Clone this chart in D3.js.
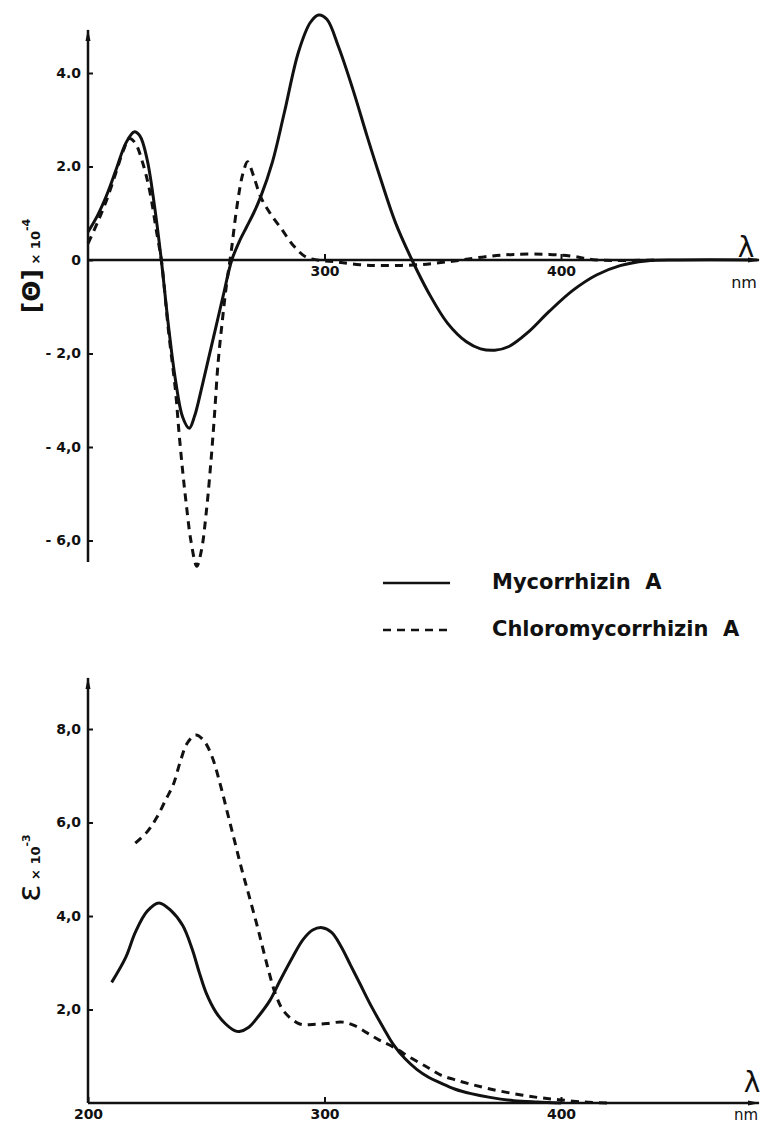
<!DOCTYPE html>
<html>
<head>
<meta charset="utf-8">
<script src="https://cdn.jsdelivr.net/npm/d3@7"></script>
<style>
  body { margin: 0; background: #fff; }
  text { font-family: "DejaVu Sans", sans-serif; fill: #111; }
</style>
</head>
<body>
<div id="root"></div>
<script>
// CD spectrum, [theta] x 10^-4
var cdWlMyc = [200, 204, 208, 212, 216, 219.5, 222, 225, 228, 231, 234, 237, 240, 242.8, 245, 248, 251, 254, 257, 260.8, 264, 267, 270, 273, 278, 283, 289, 294, 297.5, 301, 306, 312, 318, 323, 330, 337, 344, 352, 360, 366, 372, 378, 386, 395, 405, 415, 425, 436, 450, 483];
var cdMyc   = [0.6, 0.95, 1.4, 1.95, 2.5, 2.74, 2.65, 2.15, 1.2, 0, -1.4, -2.57, -3.36, -3.6, -3.35, -2.75, -2.1, -1.45, -0.8, 0, 0.4, 0.7, 1.0, 1.35, 2.1, 3.15, 4.45, 5.08, 5.24, 5.15, 4.55, 3.65, 2.65, 1.85, 0.8, 0, -0.7, -1.35, -1.75, -1.9, -1.93, -1.85, -1.55, -1.1, -0.65, -0.32, -0.12, -0.02, 0, 0];

var cdWlChl = [200, 204, 208, 212, 215, 217.5, 220, 223, 226, 229, 231, 234, 237, 238.5, 240, 241.5, 243.5, 246, 248, 250, 252, 253.5, 255, 256.8, 258.5, 260.6, 263, 265.5, 267.5, 270, 273, 277, 282, 287, 292, 297, 305, 315, 325, 340, 350, 358, 368, 380, 395, 405, 415, 440];
var cdChl   = [0.35, 0.8, 1.3, 1.9, 2.35, 2.6, 2.5, 2.1, 1.5, 0.6, 0, -1.5, -2.8, -3.7, -4.5, -5.2, -6.0, -6.55, -6.2, -5.4, -4.3, -3.3, -2.2, -1.3, -0.55, 0.2, 1.15, 1.85, 2.1, 1.8, 1.35, 1.0, 0.65, 0.3, 0.07, 0, -0.04, -0.1, -0.12, -0.1, -0.05, 0, 0.07, 0.12, 0.12, 0.08, 0, 0];

// UV spectrum, epsilon x 10^-3
var uvWlMyc = [210, 216, 220, 225, 230, 235, 240, 244, 247, 250, 254, 258, 262, 264, 268, 272, 277, 281, 286.5, 291, 295, 299, 303, 307, 311, 315, 320, 325, 329, 334, 339, 344, 349, 355, 362, 370, 380, 390, 400];
var uvMyc   = [2.58, 3.12, 3.65, 4.1, 4.28, 4.12, 3.8, 3.3, 2.8, 2.35, 1.95, 1.7, 1.55, 1.53, 1.62, 1.85, 2.2, 2.6, 3.12, 3.5, 3.7, 3.75, 3.65, 3.35, 2.95, 2.55, 2.05, 1.6, 1.26, 0.95, 0.72, 0.55, 0.43, 0.3, 0.2, 0.12, 0.05, 0.02, 0];

var uvWlChl = [220, 225, 229, 233, 236, 239, 242, 245.5, 249, 252.5, 256, 259, 262, 265, 268, 272, 276, 279.5, 283, 289.5, 295, 301, 307.6, 313, 318, 323, 329, 337, 344, 349, 355, 362, 370, 380, 390, 399, 410, 420];
var uvChl   = [5.56, 5.8, 6.1, 6.5, 6.8, 7.3, 7.7, 7.87, 7.75, 7.4, 6.8, 6.2, 5.6, 5.0, 4.45, 3.7, 2.9, 2.3, 1.95, 1.69, 1.68, 1.7, 1.73, 1.65, 1.5, 1.35, 1.2, 0.95, 0.75, 0.6, 0.5, 0.4, 0.3, 0.2, 0.12, 0.07, 0.02, 0];

var cdTicks = [4, 2, 0, -2, -4, -6];
var cdTickLabels = ["4.0", "2.0", "0", "- 2,0", "- 4,0", "- 6,0"];
var uvTicks = [8, 6, 4, 2];
var uvTickLabels = ["8,0", "6,0", "4,0", "2,0"];
var cdXTicks = [300, 400];
var uvXTicks = [200, 300, 400];
var seriesNames = ["Mycorrhizin  A", "Chloromycorrhizin  A"];

var W = 761, H = 1124;
var svg = d3.select("#root").append("svg")
  .attr("width", W).attr("height", H);

var defs = svg.append("defs");
defs.append("marker")
  .attr("id", "arrow")
  .attr("viewBox", "0 0 12 6")
  .attr("refX", 11).attr("refY", 3)
  .attr("markerWidth", 12).attr("markerHeight", 6)
  .attr("markerUnits", "userSpaceOnUse")
  .attr("orient", "auto")
  .append("path").attr("d", "M0,0.5 L12,3 L0,5.5 Z").attr("fill", "#111");

var x = d3.scaleLinear().domain([200, 400]).range([88, 561]);
var yCd = d3.scaleLinear().domain([-6, 4]).range([540.5, 73]);
var yUv = d3.scaleLinear().domain([0, 8]).range([1103, 729]);

var line = function(ys) {
  return d3.line().curve(d3.curveCatmullRom.alpha(0.5))
    .x(function(d) { return x(d[0]); })
    .y(function(d) { return ys(d[1]); });
};

function axisLines(ys, yTopPix, yBotPix, y0) {
  // vertical axis, arrow at top
  svg.append("line")
    .attr("x1", x(200)).attr("x2", x(200))
    .attr("y1", yBotPix).attr("y2", yTopPix)
    .attr("stroke", "#111").attr("stroke-width", 2.5)
    .attr("marker-end", "url(#arrow)");
  // horizontal axis, arrow at right
  svg.append("line")
    .attr("x1", x(200)).attr("x2", 759)
    .attr("y1", ys(y0)).attr("y2", ys(y0))
    .attr("stroke", "#111").attr("stroke-width", 2.5)
    .attr("marker-end", "url(#arrow)");
}

function yAxis(ys, ticks, labels) {
  var g = svg.append("g")
    .attr("transform", "translate(" + x(200) + ",0)")
    .call(d3.axisLeft(ys).tickValues(ticks)
      .tickFormat(function(d, i) { return labels[i]; })
      .tickSize(-5).tickPadding(7));
  g.select(".domain").remove();
  g.selectAll(".tick line").attr("stroke", "#111").attr("stroke-width", 2);
  g.selectAll(".tick text")
    .style("font-family", "DejaVu Sans, sans-serif")
    .style("font-size", "14px").style("font-weight", "bold").attr("fill", "#111");
}

function xAxis(yPix, ticks) {
  var g = svg.append("g")
    .attr("transform", "translate(0," + yPix + ")")
    .call(d3.axisBottom(x).tickValues(ticks)
      .tickFormat(d3.format("d"))
      .tickSize(-6).tickPadding(6));
  g.select(".domain").remove();
  g.selectAll(".tick line").attr("stroke", "#111").attr("stroke-width", 2);
  g.selectAll(".tick text")
    .style("font-family", "DejaVu Sans, sans-serif")
    .style("font-size", "14px").style("font-weight", "bold").attr("fill", "#111");
}

// top panel (CD)
axisLines(yCd, 30, 562, 0);
yAxis(yCd, cdTicks, cdTickLabels);
xAxis(yCd(0), cdXTicks);

svg.append("path")
  .datum(d3.zip(cdWlMyc, cdMyc))
  .attr("d", line(yCd))
  .attr("fill", "none").attr("stroke", "#111").attr("stroke-width", 3);
svg.append("path")
  .datum(d3.zip(cdWlChl, cdChl))
  .attr("d", line(yCd))
  .attr("fill", "none").attr("stroke", "#111").attr("stroke-width", 3)
  .attr("stroke-dasharray", "8,6");

svg.append("text").attr("x", 746).attr("y", 257)
  .attr("text-anchor", "middle").style("font-size", "28px").text("λ");
svg.append("text").attr("x", 744).attr("y", 288)
  .attr("text-anchor", "middle").style("font-size", "16px").text("nm");

var yl1 = svg.append("text")
  .attr("transform", "translate(40,266) rotate(-90)")
  .attr("text-anchor", "middle");
yl1.append("tspan").style("font-size", "25px").style("font-weight", "bold").text("[Θ]");
yl1.append("tspan").style("font-size", "13px").style("font-weight", "bold").text(" × 10");
yl1.append("tspan").style("font-size", "11px").style("font-weight", "bold").attr("dy", -10).text("-4");

// legend
var legend = svg.append("g");
seriesNames.forEach(function(name, i) {
  var yy = 583 + i * 47;
  legend.append("line")
    .attr("x1", 383).attr("x2", 450).attr("y1", yy).attr("y2", yy)
    .attr("stroke", "#111").attr("stroke-width", 2.5)
    .attr("stroke-dasharray", i === 1 ? "8,6" : null);
  legend.append("text").attr("x", 492).attr("y", yy + 6)
    .attr("xml:space", "preserve")
    .style("white-space", "pre")
    .style("font-size", "21px").style("font-weight", "bold").text(name);
});

// bottom panel (UV)
axisLines(yUv, 678, 1103, 0);
yAxis(yUv, uvTicks, uvTickLabels);
xAxis(yUv(0), uvXTicks);

svg.append("path")
  .datum(d3.zip(uvWlMyc, uvMyc))
  .attr("d", line(yUv))
  .attr("fill", "none").attr("stroke", "#111").attr("stroke-width", 3);
svg.append("path")
  .datum(d3.zip(uvWlChl, uvChl))
  .attr("d", line(yUv))
  .attr("fill", "none").attr("stroke", "#111").attr("stroke-width", 3)
  .attr("stroke-dasharray", "8,6");

svg.append("text").attr("x", 752).attr("y", 1092)
  .attr("text-anchor", "middle").style("font-size", "28px").text("λ");
svg.append("text").attr("x", 746).attr("y", 1120)
  .attr("text-anchor", "middle").style("font-size", "15px").text("nm");

var yl2 = svg.append("text")
  .attr("transform", "translate(40,868) rotate(-90)")
  .attr("text-anchor", "middle");
yl2.append("tspan").style("font-size", "32px").text("ε");
yl2.append("tspan").style("font-size", "13px").style("font-weight", "bold").text(" × 10");
yl2.append("tspan").style("font-size", "11px").style("font-weight", "bold").attr("dy", -10).text("-3");
</script>
</body>
</html>
